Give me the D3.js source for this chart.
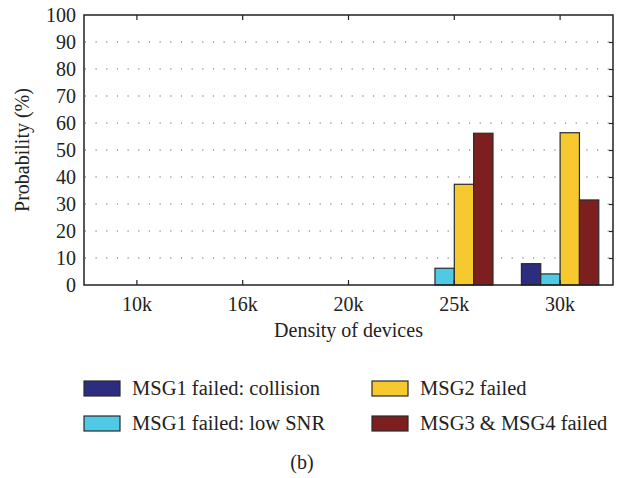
<!DOCTYPE html>
<html>
<head>
<meta charset="utf-8">
<script src="https://cdn.jsdelivr.net/npm/d3@7"></script>
<style>
  html, body { margin: 0; padding: 0; background: #fff; }
  svg { display: block; }
  text { font-family: "Liberation Serif", "Times New Roman", Times, "DejaVu Serif", serif; fill: #222; }
</style>
</head>
<body>
<svg id="chart" width="623" height="478"></svg>
<script>
// Failure probability (%) per device density, one array per failure cause
const densities = ["10k", "16k", "20k", "25k", "30k"];
const msg1Collision = [0, 0, 0, 0, 7.9];
const msg1LowSnr    = [0, 0, 0, 6.2, 4.1];
const msg2Failed    = [0, 0, 0, 37.3, 56.4];
const msg34Failed   = [0, 0, 0, 56.2, 31.5];
const yTicks = [0, 10, 20, 30, 40, 50, 60, 70, 80, 90, 100];

const series = [
  { name: "MSG1 failed: collision", values: msg1Collision, color: "#2d2d80" },
  { name: "MSG1 failed: low SNR",   values: msg1LowSnr,    color: "#4fc9e4" },
  { name: "MSG2 failed",            values: msg2Failed,    color: "#f5c92f" },
  { name: "MSG3 & MSG4 failed",     values: msg34Failed,   color: "#7e1f1f" }
];

const svg = d3.select("#chart");
const plotLeft = 84, plotRight = 613, plotTop = 15, plotBottom = 285;
const serif = '"Liberation Serif", "Times New Roman", Times, serif';

const x0 = d3.scaleBand().domain(densities).range([plotLeft, plotRight]).paddingInner(0).paddingOuter(0);
const x1 = d3.scaleBand().domain(series.map(s => s.name))
  .range([0, x0.bandwidth()]).paddingInner(0).paddingOuter(0.735);
const y = d3.scaleLinear().domain([0, 100]).range([plotBottom, plotTop]);

// dotted horizontal grid
svg.append("g").selectAll("line")
  .data(yTicks.filter(t => t > 0 && t < 100))
  .join("line")
  .attr("x1", plotLeft).attr("x2", plotRight)
  .attr("y1", d => y(d)).attr("y2", d => y(d))
  .attr("stroke", "#666").attr("stroke-width", 1.2)
  .attr("stroke-dasharray", "1.2,9.47")
  .attr("stroke-dashoffset", -11.5);

// bars
const groups = svg.append("g").selectAll("g")
  .data(densities)
  .join("g")
  .attr("transform", d => `translate(${x0(d)},0)`);

groups.selectAll("rect")
  .data((d, i) => series.map(s => ({ key: s.name, value: s.values[i], color: s.color })))
  .join("rect")
  .attr("x", d => x1(d.key))
  .attr("width", x1.bandwidth())
  .attr("y", d => y(d.value))
  .attr("height", d => y(0) - y(d.value))
  .attr("fill", d => d.color)
  .attr("stroke", "#2a2a2a")
  .attr("stroke-width", 1.2);

// frame
svg.append("rect")
  .attr("x", plotLeft).attr("y", plotTop)
  .attr("width", plotRight - plotLeft).attr("height", plotBottom - plotTop)
  .attr("fill", "none").attr("stroke", "#222").attr("stroke-width", 1.5);

// left axis labels
const yAxis = d3.axisLeft(y).tickValues(yTicks).tickSize(0).tickPadding(8);
const gy = svg.append("g").attr("transform", `translate(${plotLeft},0)`).call(yAxis);
gy.select(".domain").remove();
gy.selectAll("text").style("font-size", "20px").style("font-family", serif).attr("fill", "#222");

// right axis: inward ticks
const gyr = svg.append("g").attr("transform", `translate(${plotRight},0)`)
  .call(d3.axisRight(y).tickValues(yTicks.filter(t => t > 0 && t < 100)).tickSize(-4).tickFormat(""));
gyr.select(".domain").remove();
gyr.selectAll("line").attr("stroke", "#222").attr("stroke-width", 1.2);

// bottom axis with inward ticks
const gx = svg.append("g").attr("transform", `translate(0,${plotBottom})`)
  .call(d3.axisBottom(x0).tickSize(-5).tickPadding(0));
gx.select(".domain").remove();
gx.selectAll("line").attr("stroke", "#222").attr("stroke-width", 1.2);
gx.selectAll("text").attr("y", 12).style("font-size", "20px")
  .style("font-family", serif).attr("fill", "#222");

// top axis: inward ticks
const gxt = svg.append("g").attr("transform", `translate(0,${plotTop})`)
  .call(d3.axisTop(x0).tickSize(-5).tickFormat(""));
gxt.select(".domain").remove();
gxt.selectAll("line").attr("stroke", "#222").attr("stroke-width", 1.2);

// axis titles
svg.append("text")
  .attr("x", (plotLeft + plotRight) / 2).attr("y", 337)
  .attr("text-anchor", "middle").style("font-size", "20px")
  .text("Density of devices");

svg.append("text")
  .attr("transform", `translate(29,${(plotTop + plotBottom) / 2}) rotate(-90)`)
  .attr("text-anchor", "middle").style("font-size", "20px")
  .text("Probability (%)");

// legend: two columns, two rows
const legendPos = [
  { x: 84,  y: 381 },
  { x: 84,  y: 416 },
  { x: 372, y: 381 },
  { x: 372, y: 416 }
];
const legend = svg.append("g").selectAll("g")
  .data(series)
  .join("g")
  .attr("transform", (d, i) => `translate(${legendPos[i].x},${legendPos[i].y})`);
legend.append("rect")
  .attr("width", 36).attr("height", 15)
  .attr("fill", d => d.color)
  .attr("stroke", "#2a2a2a").attr("stroke-width", 1.2);
legend.append("text")
  .attr("x", 48).attr("y", 14)
  .style("font-size", "20.5px")
  .text(d => d.name);

svg.append("text")
  .attr("x", 302).attr("y", 469)
  .attr("text-anchor", "middle").style("font-size", "20px")
  .text("(b)");
</script>
</body>
</html>
